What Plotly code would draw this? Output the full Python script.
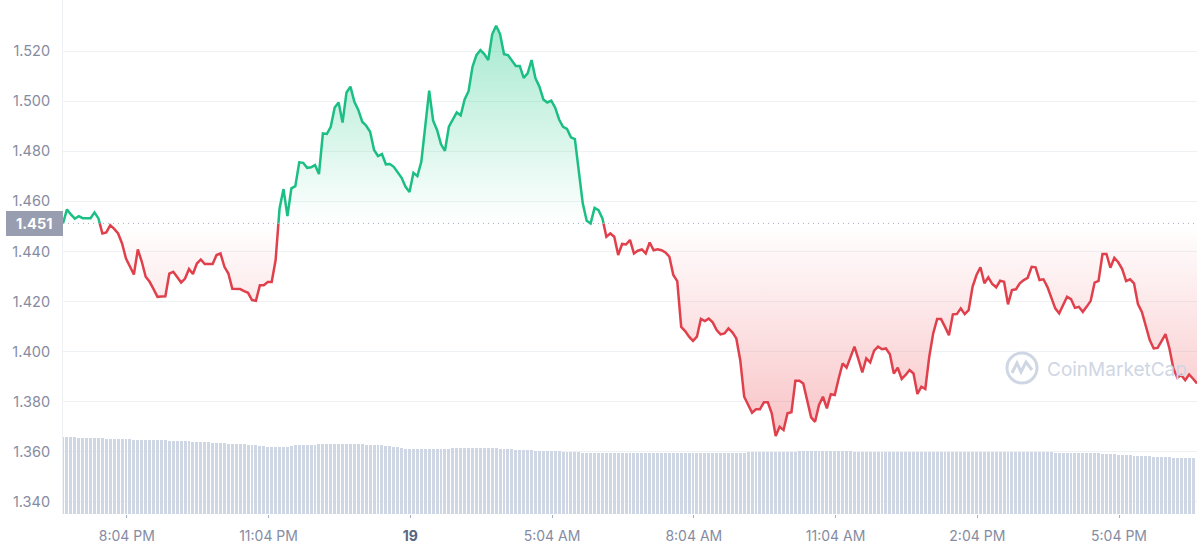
import pandas as pd
import plotly.graph_objects as go

prices = [
    1.4512, 1.4568, 1.4548, 1.4531, 1.4541, 1.4533, 1.4533, 1.4533, 1.4556, 1.4532, 1.4472, 1.4476,
    1.4505, 1.4490, 1.4472, 1.4432, 1.4372, 1.4340, 1.4308, 1.4408, 1.4360, 1.4299, 1.4279, 1.4250,
    1.4219, 1.4220, 1.4221, 1.4312, 1.4319, 1.4298, 1.4276, 1.4292, 1.4330, 1.4310, 1.4352, 1.4368,
    1.4350, 1.4350, 1.4350, 1.4386, 1.4392, 1.4339, 1.4312, 1.4251, 1.4250, 1.4250, 1.4242, 1.4235,
    1.4206, 1.4203, 1.4265, 1.4265, 1.4278, 1.4278, 1.4366, 1.4572, 1.4649, 1.4541, 1.4652, 1.4661,
    1.4756, 1.4754, 1.4734, 1.4736, 1.4745, 1.4709, 1.4871, 1.4869, 1.4898, 1.4975, 1.4995, 1.4915,
    1.5035, 1.5058, 1.4998, 1.4965, 1.4918, 1.4902, 1.4878, 1.4805, 1.4781, 1.4789, 1.4748, 1.4749,
    1.4738, 1.4716, 1.4694, 1.4658, 1.4637, 1.4714, 1.4701, 1.4758, 1.4911, 1.5042, 1.4922, 1.4885,
    1.4828, 1.4802, 1.4898, 1.4925, 1.4955, 1.4943, 1.5007, 1.5040, 1.5137, 1.5184, 1.5204, 1.5188,
    1.5164, 1.5267, 1.5301, 1.5268, 1.5188, 1.5184, 1.5164, 1.5141, 1.5141, 1.5093, 1.5111, 1.5164,
    1.5091, 1.5058, 1.5007, 1.4995, 1.5002, 1.4974, 1.4927, 1.4898, 1.4889, 1.4856, 1.4849, 1.4712,
    1.4592, 1.4523, 1.4512, 1.4574, 1.4565, 1.4532, 1.4459, 1.4472, 1.4459, 1.4386, 1.4430, 1.4428,
    1.4446, 1.4392, 1.4403, 1.4408, 1.4392, 1.4436, 1.4405, 1.4409, 1.4405, 1.4396, 1.4379, 1.4306,
    1.4282, 1.4099, 1.4082, 1.4060, 1.4043, 1.4060, 1.4131, 1.4122, 1.4132, 1.4117, 1.4086, 1.4069,
    1.4073, 1.4093, 1.4077, 1.4053, 1.3966, 1.3820, 1.3790, 1.3756, 1.3770, 1.3770, 1.3798, 1.3798,
    1.3754, 1.3663, 1.3700, 1.3687, 1.3754, 1.3758, 1.3884, 1.3884, 1.3873, 1.3807, 1.3738, 1.3720,
    1.3787, 1.3820, 1.3774, 1.3830, 1.3827, 1.3893, 1.3953, 1.3936, 1.3978, 1.4020, 1.3970, 1.3917,
    1.3973, 1.3957, 1.4004, 1.4020, 1.4010, 1.4013, 1.3990, 1.3913, 1.3936, 1.3891, 1.3907, 1.3927,
    1.3913, 1.3831, 1.3860, 1.3851, 1.3980, 1.4073, 1.4130, 1.4130, 1.4099, 1.4066, 1.4149, 1.4150,
    1.4173, 1.4150, 1.4166, 1.4259, 1.4306, 1.4337, 1.4273, 1.4297, 1.4270, 1.4257, 1.4283, 1.4279,
    1.4189, 1.4246, 1.4249, 1.4273, 1.4286, 1.4295, 1.4339, 1.4337, 1.4286, 1.4289, 1.4259, 1.4219,
    1.4173, 1.4153, 1.4188, 1.4219, 1.4210, 1.4175, 1.4179, 1.4159, 1.4180, 1.4203, 1.4276, 1.4283,
    1.4390, 1.4390, 1.4335, 1.4375, 1.4357, 1.4330, 1.4282, 1.4289, 1.4273, 1.4190, 1.4159, 1.4105,
    1.4046, 1.4013, 1.4015, 1.4042, 1.4070, 1.4013, 1.3933, 1.3896, 1.3906, 1.3886, 1.3909, 1.3892,
    1.3873,
]

volumes = [
    77, 77, 77, 77, 76.5, 76.5, 76.5, 76, 76, 76, 76, 75.5,
    75.5, 75.5, 75, 75, 75, 75, 74.5, 74.5, 74.5, 74.5, 74, 74,
    74, 74, 74, 73.5, 73.5, 73, 73, 73, 73, 72.5, 72.5, 72.5,
    72, 72, 71.5, 71.5, 71, 71, 70.5, 70.5, 70, 70, 70, 69.5,
    69, 69, 68.5, 68, 67.5, 67, 67, 67, 67, 67.5, 68, 69,
    69, 69, 69.5, 69.5, 69.5, 70, 70, 70, 70, 70, 70, 70,
    70, 70, 70, 70, 70, 69.5, 69.5, 69.5, 69, 69, 68.5, 68,
    67.5, 67, 66, 65.5, 65.5, 65, 65, 65, 65, 65.5, 65.5, 65.5,
    65.5, 65.5, 65.5, 66, 66, 66, 66, 66, 66, 66, 66, 66,
    66, 66, 66, 65.5, 65, 65, 65, 64.5, 64, 64, 64, 64,
    63.5, 63.5, 63, 63, 63, 63, 63, 62.5, 62, 62, 62, 62,
    61.5, 61.5, 61.5, 61, 61, 61, 61, 61, 61, 61, 61, 61,
    61, 61, 61, 61, 61, 61, 61, 61, 61, 61, 61, 61,
    61, 61, 61, 61, 61, 61, 61, 61, 61, 61, 61, 61,
    61, 61, 61, 61, 61.5, 61.5, 62, 62, 62, 62, 62, 62,
    62, 62, 62, 62.5, 62.5, 62.5, 62.5, 63, 63, 63, 63, 63,
    63, 63, 63, 63, 63, 63, 63, 63, 63, 62.5, 62.5, 62.5,
    62.5, 62, 62, 62, 62, 62, 62, 62, 62, 62, 62, 62,
    62, 62, 62, 62, 62, 62, 62, 62, 62, 62, 62, 62,
    62, 62, 62, 62, 62, 62, 62, 62, 62, 62, 62, 62,
    62, 62, 62, 62, 62, 62, 62, 62, 62, 62, 62, 62,
    61.5, 61.5, 61.5, 61.5, 61.5, 61.5, 61.5, 61, 61, 61, 61, 61,
    60.5, 60.5, 60, 60, 59.5, 59.5, 59, 59, 58.5, 58.5, 58, 58,
    58, 57.5, 57.5, 57, 57, 57, 56.5, 56.5, 56, 56, 56, 56,
]

y_ticks = [1.34, 1.36, 1.38, 1.40, 1.42, 1.44, 1.46, 1.48, 1.50, 1.52]
x_tick_times = [
    "2022-02-18 20:04", "2022-02-18 23:04", "2022-02-19 02:04", "2022-02-19 05:04",
    "2022-02-19 08:04", "2022-02-19 11:04", "2022-02-19 14:04", "2022-02-19 17:04",
]
x_tick_labels = [
    "8:04 PM", "11:04 PM", "<b><span style='color:#58667e'>19</span></b>", "5:04 AM",
    "8:04 AM", "11:04 AM", "2:04 PM", "5:04 PM",
]
base_price = 1.4512

GREEN = "#1bbf83"
RED = "#e0404b"
GREY = "#858ca2"
WIDTH, HEIGHT = 1200, 550
LEFT, RIGHT, BOTTOM = 63, 3, 36

times = pd.date_range("2022-02-18 18:43", periods=len(prices), freq="5min")
vol_times = times[: len(volumes)]

# add a point wherever the line crosses the base price, so the colour switch is clean
line_x, line_y = [times[0]], [prices[0]]
for i in range(1, len(prices)):
    a, b = prices[i - 1], prices[i]
    if (a - base_price) * (b - base_price) < 0:
        line_x.append(times[i - 1] + (times[i] - times[i - 1]) * ((base_price - a) / (b - a)))
        line_y.append(base_price)
    line_x.append(times[i])
    line_y.append(b)

above = [max(v, base_price) for v in line_y]
below = [min(v, base_price) for v in line_y]
green_line = [v if v >= base_price else None for v in line_y]
red_line = [v if v <= base_price else None for v in line_y]
base_line = [base_price] * len(line_x)

fig = go.Figure()
fig.add_trace(go.Bar(x=vol_times, y=volumes, yaxis="y2", marker=dict(color="#cfd6e4", line_width=0),
                     width=5 * 60 * 1000 * 0.74))

fig.add_trace(go.Scatter(x=line_x, y=base_line, mode="lines", line=dict(width=0), hoverinfo="skip"))
fig.add_trace(go.Scatter(
    x=line_x, y=above, mode="lines", line=dict(width=0), fill="tonexty", hoverinfo="skip",
    fillgradient=dict(type="vertical", start=base_price, stop=max(prices),
                      colorscale=[[0, "rgba(22,199,132,0)"], [1, "rgba(22,199,132,0.38)"]]),
))
fig.add_trace(go.Scatter(x=line_x, y=base_line, mode="lines", line=dict(width=0), hoverinfo="skip"))
fig.add_trace(go.Scatter(
    x=line_x, y=below, mode="lines", line=dict(width=0), fill="tonexty", hoverinfo="skip",
    fillgradient=dict(type="vertical", start=min(prices), stop=base_price,
                      colorscale=[[0, "rgba(234,57,67,0.3)"], [1, "rgba(234,57,67,0)"]]),
))
fig.add_trace(go.Scatter(x=line_x, y=green_line, mode="lines", line=dict(color=GREEN, width=2.5)))
fig.add_trace(go.Scatter(x=line_x, y=red_line, mode="lines", line=dict(color=RED, width=2.5)))


def px_x(p):
    return (p - LEFT) / (WIDTH - LEFT - RIGHT)


def px_y(p):
    return (HEIGHT - BOTTOM - p) / (HEIGHT - BOTTOM)


logo_line = [(1012, 373), (1017, 363), (1021, 372), (1026, 362), (1032, 370)]
logo_path = "M " + " L ".join(f"{px_x(a)},{px_y(b)}" for a, b in logo_line)

fig.update_layout(
    width=WIDTH,
    height=HEIGHT,
    margin=dict(l=LEFT, r=RIGHT, t=0, b=BOTTOM),
    paper_bgcolor="white",
    plot_bgcolor="white",
    showlegend=False,
    bargap=0,
    font=dict(family="Inter", size=14, color=GREY),
    xaxis=dict(
        range=[times[0], times[-1]],
        tickmode="array",
        tickvals=x_tick_times,
        ticktext=x_tick_labels,
        showgrid=False,
        ticks="outside",
        ticklen=3,
        tickcolor="#a6b0c3",
        ticklabelstandoff=6,
        tickfont=dict(size=14, color=GREY),
    ),
    yaxis=dict(
        range=[1.3352, 1.5404],
        tickmode="array",
        tickvals=y_ticks,
        tickformat=".3f",
        gridcolor="#eff2f5",
        gridwidth=1,
        zeroline=False,
        showline=True,
        linecolor="#eff2f5",
        ticks="",
        ticklabelstandoff=9,
        tickfont=dict(size=14.5, color=GREY),
    ),
    yaxis2=dict(overlaying="y", range=[0, HEIGHT - BOTTOM], visible=False),
    shapes=[
        dict(type="line", xref="paper", x0=0, x1=1, yref="y", y0=base_price, y1=base_price,
             line=dict(color="#a6b0c3", width=1, dash="1px,4px")),
        dict(type="rect", xref="paper", x0=px_x(6), x1=0, yref="paper", y0=px_y(236), y1=px_y(211),
             fillcolor="#989eaf", line_width=0),
        dict(type="circle", xref="paper", yref="paper", x0=px_x(1007), x1=px_x(1037),
             y0=px_y(383), y1=px_y(353), line=dict(color="#cfd6e4", width=3)),
        dict(type="path", xref="paper", yref="paper", path=logo_path,
             line=dict(color="#cfd6e4", width=3)),
    ],
    annotations=[
        dict(text="<b>1.451</b>", xref="paper", yref="paper", x=px_x(34), y=px_y(223.5), xanchor="center",
             yanchor="middle", showarrow=False, font=dict(size=14.5, color="white")),
        dict(text="CoinMarketCap", xref="paper", yref="paper", x=px_x(1045), y=px_y(369), xanchor="left",
             yanchor="middle", showarrow=False, font=dict(size=19, color="#cfd6e4")),
    ],
)

fig.write_html("out.html", config=dict(displayModeBar=False),
               post_script="document.body.style.margin='0';")
